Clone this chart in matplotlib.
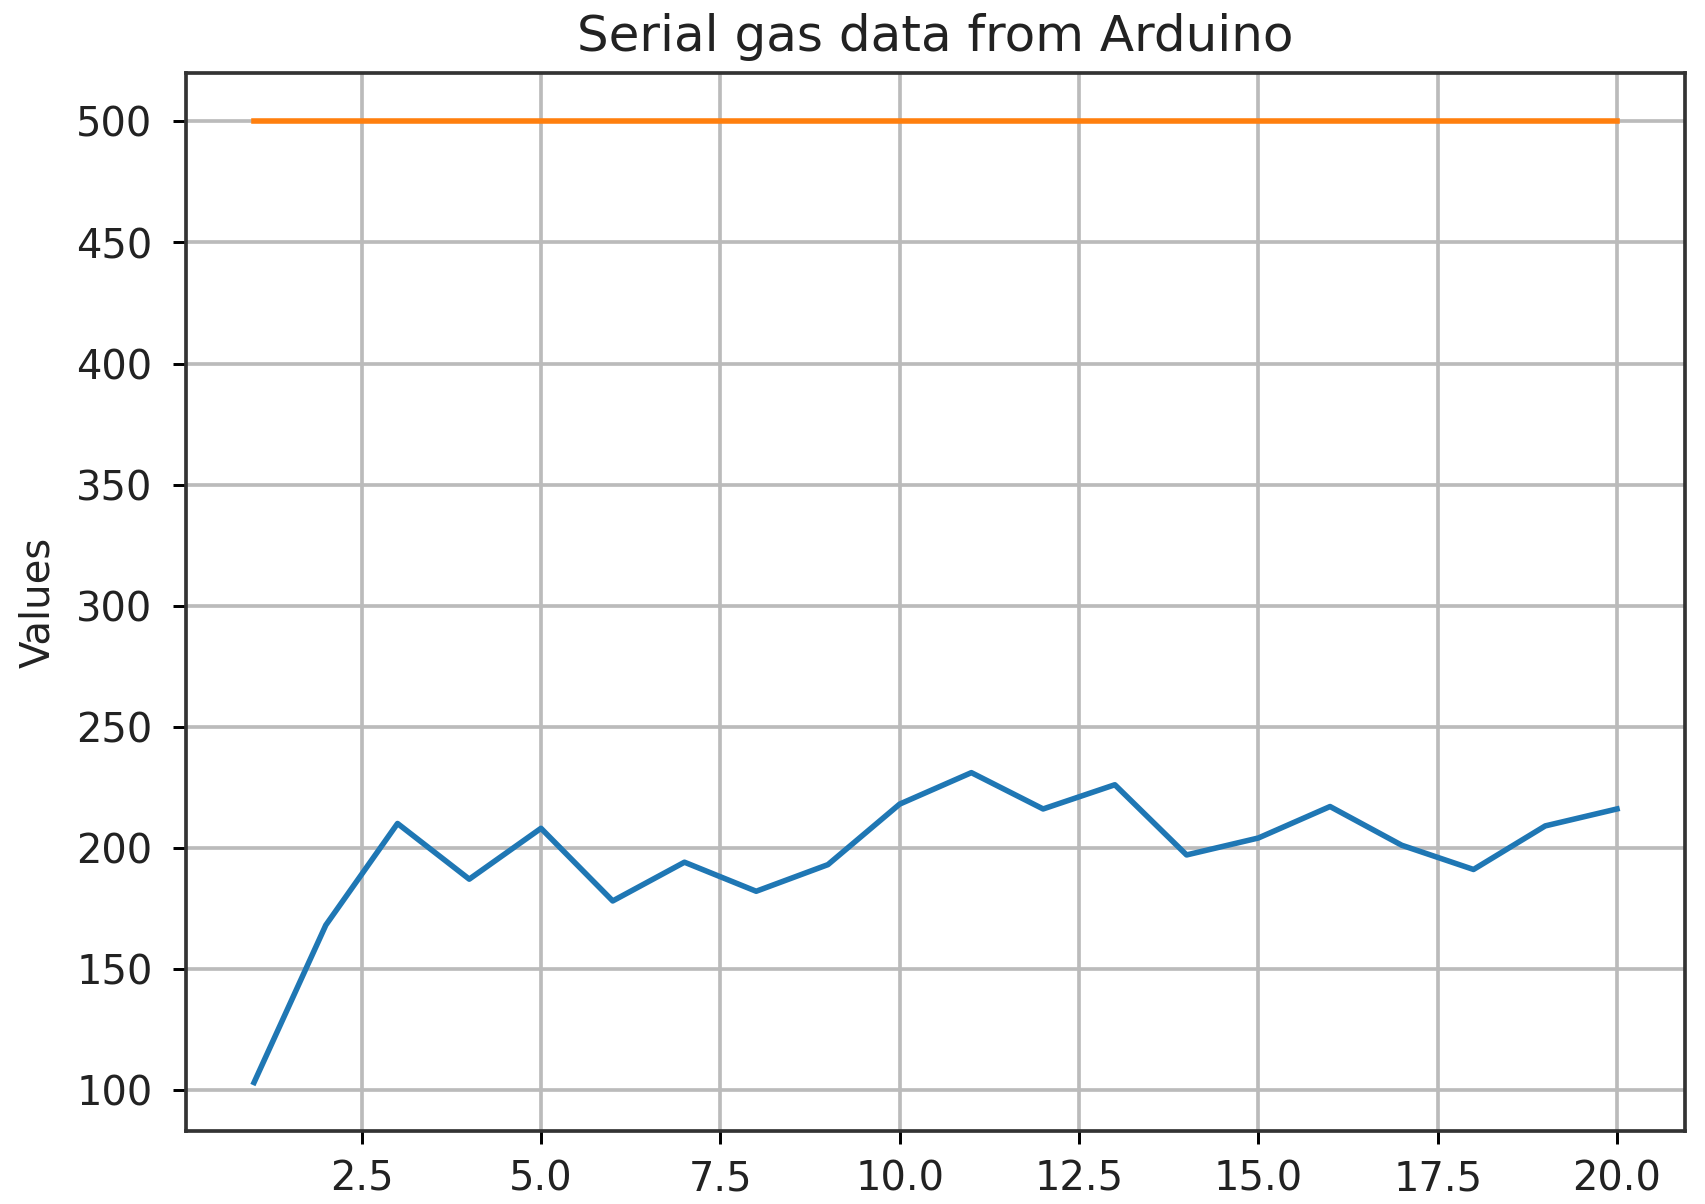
import matplotlib
matplotlib.use('Agg')
import matplotlib.pyplot as plt

# sample index and gas readings from the serial port
samples = list(range(1, 21))
gas_values = [103, 168, 210, 187, 208, 178, 194, 182, 193, 218,
              231, 216, 226, 197, 204, 217, 201, 191, 209, 216]
threshold = [500] * len(samples)

fig = plt.figure(figsize=(6.4, 4.518), dpi=266.5)
ax = fig.add_axes([0.109, 0.061, 0.879, 0.878])

ax.plot(samples, gas_values)
ax.plot(samples, threshold)

ax.set_title('Serial gas data from Arduino', fontsize=13.5, color='#222222')
ax.set_ylabel('Values', fontsize=10.9, color='#222222', labelpad=5)
ax.tick_params(labelsize=10.8, labelcolor='#222222')
ax.tick_params(axis='y', pad=5.5)
ax.tick_params(axis='x', pad=4.2)
ax.grid(True, color='#bbbbbb', linewidth=1.0)
for s in ax.spines.values():
    s.set_color('#333333')
    s.set_linewidth(1.0)

fig.savefig('out.png', dpi=266.5)
